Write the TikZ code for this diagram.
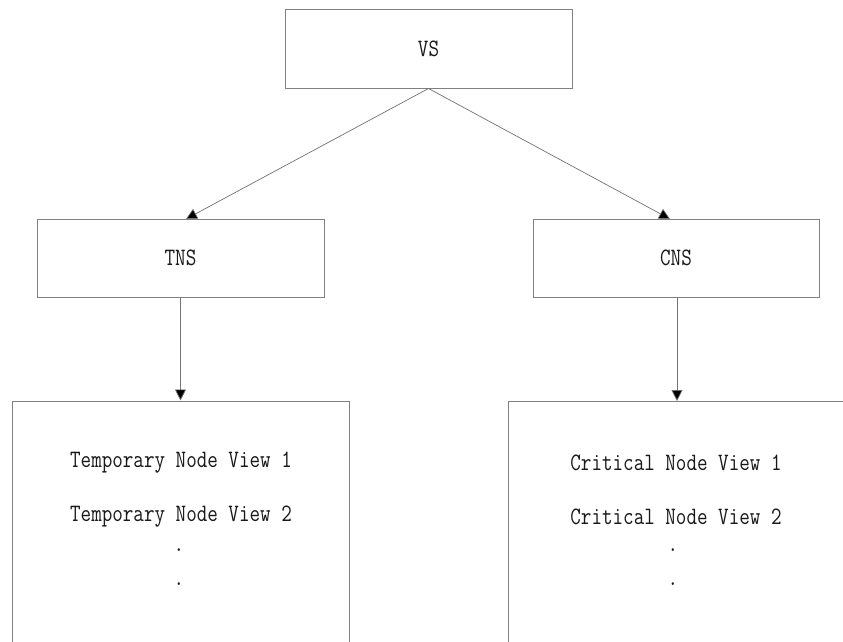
\documentclass[tikz,border=0pt]{standalone}
\usepackage{fontspec}
\setmonofont[FakeStretch=0.82]{Latin Modern Mono}
\usetikzlibrary{arrows.meta}
\begin{document}
\begin{tikzpicture}[x=1pt,y=-1pt,
  box/.style={draw=black!50,line width=1pt,rectangle,inner sep=0pt},
  lbl/.style={font=\ttfamily\fontsize{25}{28}\selectfont,text=black!90,inner sep=0pt,anchor=center},
  conn/.style={draw=black!55,line width=0.7pt,-{Triangle[length=11pt,width=11pt,fill=black]}}]
\useasboundingbox (0,0) rectangle (843,642);
\clip (0,0) rectangle (843,642);
\fill[white] (0,0) rectangle (843,642);

% top level
\node[box,minimum width=287pt,minimum height=78pt] (vs) at (428.5,49) {};
\node[lbl] (vst) at (428.5,49) {VS};

% second level
\node[box,minimum width=287pt,minimum height=78pt] (tns) at (180.5,258) {};
\node[lbl] (tnst) at (180.5,258) {TNS};
\node[box,minimum width=286pt,minimum height=78pt] (cns) at (676,258) {};
\node[lbl] (cnst) at (676,258) {CNS};

% view lists (boxes run past the lower edge)
\node[box,minimum width=337pt,minimum height=300pt] (tv) at (180.5,551) {};
\node[box,minimum width=352pt,minimum height=300pt] (cv) at (684,551) {};

\node[lbl] (t1) at (181,463) {Temporary Node View 1};
\node[lbl] (t2) at (181,517) {Temporary Node View 2};
\node[lbl] (t3) at (179,550) {.};
\node[lbl] (t4) at (179,584) {.};

\node[lbl] (c1) at (676,463) {Critical Node View 1};
\node[lbl] (c2) at (676,517) {Critical Node View 2};
\node[lbl] (c3) at (673,550) {.};
\node[lbl] (c4) at (673,584) {.};

% connectors
\coordinate (tnsin) at (186,219);
\coordinate (cnsin) at (670,219);
\draw[conn] (vs.south) -- (tnsin);
\draw[conn] (vs.south) -- (cnsin);
\draw[conn] (tns.south) -- (tns.south |- tv.north);
\draw[conn] (cns.south -| 677,0) -- (677,401);
\end{tikzpicture}
\end{document}
